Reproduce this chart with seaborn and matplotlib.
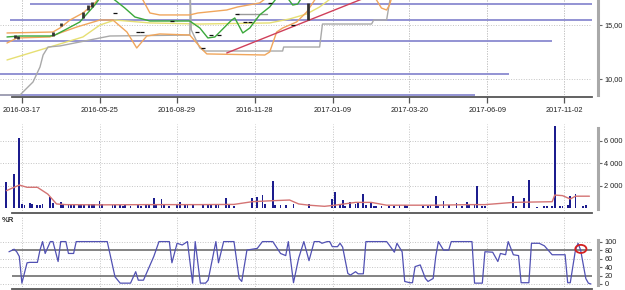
import matplotlib
matplotlib.use('Agg')
import matplotlib.pyplot as plt
from matplotlib.patches import Ellipse
import seaborn as sns

sns.set_theme(style='white')
plt.rcParams['font.family'] = ['Liberation Sans', 'DejaVu Sans']

# ---------------- data ----------------
date_tick_pos = [5.0, 35.1, 64.9, 95.0, 125.1, 154.8, 185.0, 214.7]
date_tick_labels = ['2016-03-17', '2016-05-25', '2016-08-29', '2016-11-28',
                    '2017-01-09', '2017-03-20', '2017-06-09', '2017-11-02']

# price panel
price_ticks = [10, 15]
price_tick_labels = ['10,00', '15,00']
level_values = [16.94, 15.46, 13.52, 10.46, 8.52]
level_start = [8.1, 0.4, -3.46, -3.46, -3.46]
level_end = [225.4, 225.4, 210.0, 193.5, 180.3]

stop_x = [-3.46, 4.3, 6.2, 9.3, 12.0, 13.2, 15.1, 19.7, 35.2, 39.0, 69.9, 70.1, 70.5,
          73.8, 75.7, 105.8, 106.2, 120.1, 121.2, 140.2, 141.0, 146.0, 147.9]
stop_y = [8.52, 8.52, 8.98, 9.72, 11.11, 12.22, 12.96, 13.06, 13.80, 13.98, 14.07, 17.78, 14.54,
          12.87, 12.59, 12.59, 12.96, 12.96, 15.09, 15.09, 15.46, 15.46, 18.24]
stop2_x = [88.0, 99.6]
stop2_y = [16.02, 16.02]

band_up_x = [-0.76, 17.0, 19.7, 23.6, 28.6, 33.2, 35.2, 50.6, 51.8, 54.5, 58.3, 69.9, 73.0,
             84.2, 88.4, 96.9, 100.0]
band_up_y = [14.26, 14.35, 14.72, 15.46, 16.11, 17.04, 17.59, 17.59, 17.315, 16.11, 15.93, 15.93, 16.11,
             16.39, 16.67, 17.04, 17.59]
band_lo_x = [-0.76, 3.1, 15.8, 19.7, 26.3, 35.2, 40.2, 45.6, 49.4, 53.3, 58.3, 69.9, 74.9, 76.5,
             98.9, 100.8, 103.5, 105.8, 111.2, 115.1, 118.2, 120.1, 140.2, 142.1, 144.0, 146.0,
             147.1, 148.3]
band_lo_y = [13.33, 13.80, 13.89, 14.26, 14.82, 15.46, 15.46, 14.35, 12.87, 13.98, 14.17, 14.07, 12.69, 12.32,
             12.22, 12.50, 14.35, 14.72, 15.28, 16.20, 17.315, 17.78, 17.78, 17.315, 16.57, 16.39,
             16.85, 17.78]
ma_short_x = [-0.76, 4.3, 15.8, 17.8, 21.6, 27.4, 29.4, 33.2, 35.2, 39.8, 40.9, 44.8, 48.7, 54.5,
              62.2, 69.9, 73.8, 76.9, 79.6, 81.5, 86.1, 87.3, 90.4, 93.1, 96.9, 100.8, 103.5,
              107.7, 109.7, 111.6, 113.1]
ma_short_y = [13.89, 13.98, 13.98, 14.07, 14.54, 15.28, 15.83, 16.85, 17.50, 17.50, 17.315, 16.57, 15.74, 15.37,
              15.37, 15.37, 14.72, 13.80, 13.89, 14.35, 15.46, 15.65, 14.26, 14.72, 15.93, 16.67, 17.50,
              17.50, 16.85, 16.94, 17.50]
ma_long_x = [-0.76, 15.8, 28.6, 35.2, 40.9, 54.5, 73.8, 100.8, 108.5, 115.1, 120.1, 124.7]
ma_long_y = [11.76, 12.96, 13.89, 15.0, 15.46, 15.19, 15.09, 15.19, 15.56, 16.02, 16.67, 17.50]
trend_x = [84.2, 137.5]
trend_y = [12.41, 17.50]

candle_x = [2.3, 3.5, 17.0, 20.1, 28.6, 30.5, 32.1, 115.5]
candle_lo = [13.79, 13.70, 13.98, 14.91, 15.65, 16.39, 16.67, 15.46]
candle_hi = [14.07, 13.98, 14.35, 15.19, 16.20, 16.85, 17.13, 17.04]
dash_x = [40.9, 49.8, 51.4, 63.0, 72.6, 74.9, 78.0, 81.1, 88.0, 91.1, 93.1, 100.8, 109.7]
dash_y = [16.11, 14.35, 14.35, 15.37, 14.35, 12.87, 14.07, 14.07, 16.02, 15.28, 15.28, 17.04, 15.0]

# volume panel
vol_ticks = [2000, 4000, 6000]
vol_tick_labels = ['2 000', '4 000', '6 000']
vol_idx = [-1, 2, 4, 5, 6, 8, 9, 11, 12, 13,
           16, 17, 20, 21, 23, 24, 25, 27, 28, 29,
           31, 32, 33, 35, 36, 40, 41, 43, 44, 45,
           47, 50, 51, 53, 54, 56, 57, 59, 60, 62,
           65, 66, 68, 69, 71, 75, 77, 78, 80, 81,
           84, 85, 87, 94, 96, 98, 99, 102, 103, 105,
           107, 110, 116, 125, 126, 128, 129, 130, 132, 134,
           135, 137, 138, 140, 141, 142, 144, 147, 149, 151,
           153, 154, 160, 162, 163, 165, 166, 168, 170, 173,
           175, 177, 178, 180, 181, 183, 184, 195, 196, 199,
           201, 204, 207, 208, 210, 211, 213, 214, 216, 217,
           219, 222, 223]
vol_val = [2340, 3020, 6220, 350, 300, 420, 380, 300, 250, 350,
           950, 450, 560, 350, 300, 350, 250, 300, 350, 300,
           350, 350, 400, 600, 350, 250, 250, 250, 200, 250,
           200, 250, 200, 250, 300, 860, 350, 800, 400, 150,
           250, 500, 300, 250, 300, 250, 400, 300, 250, 250,
           860, 400, 200, 860, 950, 1150, 400, 2400, 300, 250,
           250, 400, 360, 800, 1450, 350, 740, 200, 500, 350,
           500, 1240, 270, 500, 150, 150, 150, 200, 200, 250,
           250, 200, 150, 150, 250, 1100, 150, 620, 300, 410,
           200, 500, 350, 250, 1930, 150, 150, 1100, 150, 860,
           2520, 100, 150, 150, 150, 7300, 150, 150, 250, 1040,
           1210, 150, 250]
vol_ma_x = [-1, 4, 7, 11, 15, 18.4, 22, 35, 54, 74,
            87, 94, 102, 108.5, 112, 116, 122, 126, 134, 140,
            146, 165, 178, 184, 195, 210, 211, 214, 217, 219,
            224.4]
vol_ma_y = [1540, 2040, 1840, 1840, 1240, 360, 300, 280, 300, 300,
            320, 560, 650, 710, 360, 250, 150, 250, 500, 500,
            250, 250, 300, 300, 500, 560, 1150, 1100, 800, 1050,
            1050]

# Williams %R panel
wr_ticks = [0, 20, 40, 60, 80, 100]
wr_x = [0, 2, 3, 4, 5, 7, 8, 11, 12, 13,
        14, 16, 17, 19, 20, 22, 23, 25, 26, 38,
        41, 43, 47, 49, 50, 52, 56, 58, 62, 63,
        65, 67, 68, 69, 71, 72, 74, 76, 77, 80,
        81, 83, 87, 89, 90, 92, 94, 96, 98, 102,
        105, 107, 108, 110, 112, 114, 116, 118, 120, 121,
        123, 124, 125, 127, 128, 129, 131, 132, 134, 135,
        137, 138, 146, 147, 149, 150, 152, 153, 155, 156,
        157, 159, 161, 162, 164, 165, 166, 168, 170, 171,
        179, 180, 183, 184, 187, 189, 190, 192, 193, 195,
        197, 198, 201, 202, 205, 207, 210, 215, 216, 217,
        219, 220, 221, 223, 224, 225]
wr_y = [76, 82, 76, 65, 2, 50, 51, 51, 80, 100,
        72, 100, 100, 53, 100, 100, 72, 72, 100, 100,
        17, 2, 2, 29, 9, 9, 65, 100, 100, 50,
        96, 92, 96, 100, 2, 100, 2, 2, 9, 100,
        50, 100, 100, 13, 6, 80, 82, 84, 100, 100,
        72, 67, 100, 3, 61, 100, 55, 100, 100, 96,
        100, 100, 88, 88, 96, 87, 25, 21, 29, 24,
        24, 100, 100, 92, 75, 96, 76, 6, 3, 3,
        41, 45, 13, 6, 13, 65, 100, 80, 80, 100,
        100, 2, 2, 76, 75, 53, 72, 69, 100, 69,
        67, 3, 3, 96, 96, 90, 69, 69, 3, 3,
        80, 96, 80, 13, 2, 0]
wr_levels = [80, 20]
wr_grid = [100, 60, 40, 0]
highlight_x, highlight_y = 221.1, 82.7

# ---------------- layout ----------------
W, H = 625, 290
fig = plt.figure(figsize=(W / 100, H / 100), dpi=100)


def box(x0, y0, x1, y1):
    return [x0 / W, 1 - y1 / H, (x1 - x0) / W, (y1 - y0) / H]


XLIM = (-3.46, 225.4)
ax1 = fig.add_axes(box(0, 0, 592, 97))
ax2 = fig.add_axes(box(0, 124, 592, 213))
ax3 = fig.add_axes(box(0, 217, 592, 289))

GRID = dict(color='#c4c4c4', lw=0.7, ls=(0, (1, 1.6)), zorder=0)


def style(ax, ylim, yticks, ylabels, rbounds, hgrid, show_dates):
    ax.set_facecolor('white')
    ax.set_xlim(*XLIM)
    ax.set_ylim(*ylim)
    for s in ('top', 'left'):
        ax.spines[s].set_visible(False)
    ax.spines['right'].set_position(('outward', 4))
    ax.spines['right'].set_color('#a9a9a9')
    ax.spines['right'].set_linewidth(2.2)
    ax.spines['right'].set_bounds(*rbounds)
    ax.spines['bottom'].set_color('#555555')
    ax.spines['bottom'].set_linewidth(1.3)
    ax.spines['bottom'].set_bounds(1, XLIM[1])
    ax.yaxis.tick_right()
    ax.set_yticks(yticks, ylabels)
    ax.tick_params(axis='y', length=3, width=0.8, color='#666666', labelsize=5.3,
                   pad=2, labelcolor='#222222', right=True, left=False)
    ax.set_xticks(date_tick_pos)
    if show_dates:
        ax.set_xticklabels(date_tick_labels)
        ax.tick_params(axis='x', length=4.5, width=0.9, color='#555555', labelsize=5.3,
                       pad=2.5, labelcolor='#222222', bottom=True)
    else:
        ax.set_xticklabels([])
        ax.tick_params(axis='x', length=0)
    for x in date_tick_pos:
        ax.axvline(x, **GRID)
    for y in hgrid:
        ax.axhline(y, **GRID)
    ax.set_xlabel('')
    ax.set_ylabel('')


# ---- price panel ----
style(ax1, (8.33, 17.315), price_ticks, price_tick_labels, (8.5, 17.4), price_ticks, True)
ax1.hlines(level_values, level_start, level_end, colors='#8a8ad0', lw=1.3, zorder=1)
kw = dict(ax=ax1, estimator=None, sort=False, legend=False)
sns.lineplot(x=ma_long_x, y=ma_long_y, color='#e6df73', lw=1.0, **kw)
sns.lineplot(x=stop_x, y=stop_y, color='#a9a9a9', lw=1.0, **kw)
sns.lineplot(x=stop2_x, y=stop2_y, color='#9a9a9a', lw=1.0, **kw)
sns.lineplot(x=band_up_x, y=band_up_y, color='#f0a65c', lw=1.0, **kw)
sns.lineplot(x=band_lo_x, y=band_lo_y, color='#f0a65c', lw=1.0, **kw)
sns.lineplot(x=ma_short_x, y=ma_short_y, color='#3aa83a', lw=1.0, **kw)
sns.lineplot(x=trend_x, y=trend_y, color='#d0405a', lw=1.0, **kw)
ax1.vlines(candle_x, candle_lo, candle_hi, colors='#333333', lw=2.0, zorder=4)
sns.scatterplot(x=dash_x, y=dash_y, marker='_', s=6, color='#111111', linewidth=0.9,
                ax=ax1, legend=False, zorder=4)
style(ax1, (8.33, 17.315), price_ticks, price_tick_labels, (8.5, 17.4), [], True)

# ---- volume panel ----
sns.barplot(x=vol_idx, y=vol_val, native_scale=True, orient='x', color='#1c1c8e',
            width=0.7, linewidth=0, errorbar=None, saturation=1, ax=ax2, zorder=2)
sns.lineplot(x=vol_ma_x, y=vol_ma_y, color='#d47474', lw=1.0, ax=ax2,
             estimator=None, sort=False, legend=False, zorder=3)
style(ax2, (-444, 7467), vol_ticks, vol_tick_labels, (-100, 7150), vol_ticks, False)

# ---- %R panel ----
sns.lineplot(x=wr_x, y=wr_y, color='#5151b3', lw=0.9, ax=ax3,
             estimator=None, sort=False, legend=False, zorder=3)
ax3.hlines(wr_levels, 1, XLIM[1], colors='#6e6e6e', lw=1.2, zorder=2)
ax3.add_patch(Ellipse((highlight_x, highlight_y), width=4.3, height=19, fill=False,
                      edgecolor='#d42020', lw=1.3, zorder=5))
style(ax3, (-11.8, 158), wr_ticks, [str(v) for v in wr_ticks], (-3, 103), wr_grid, False)
fig.text(2 / W, 1 - 221 / H, '%R', fontsize=5.5, fontweight='bold', color='#333333',
         va='center', ha='left')

fig.savefig('out.png', dpi=100)
